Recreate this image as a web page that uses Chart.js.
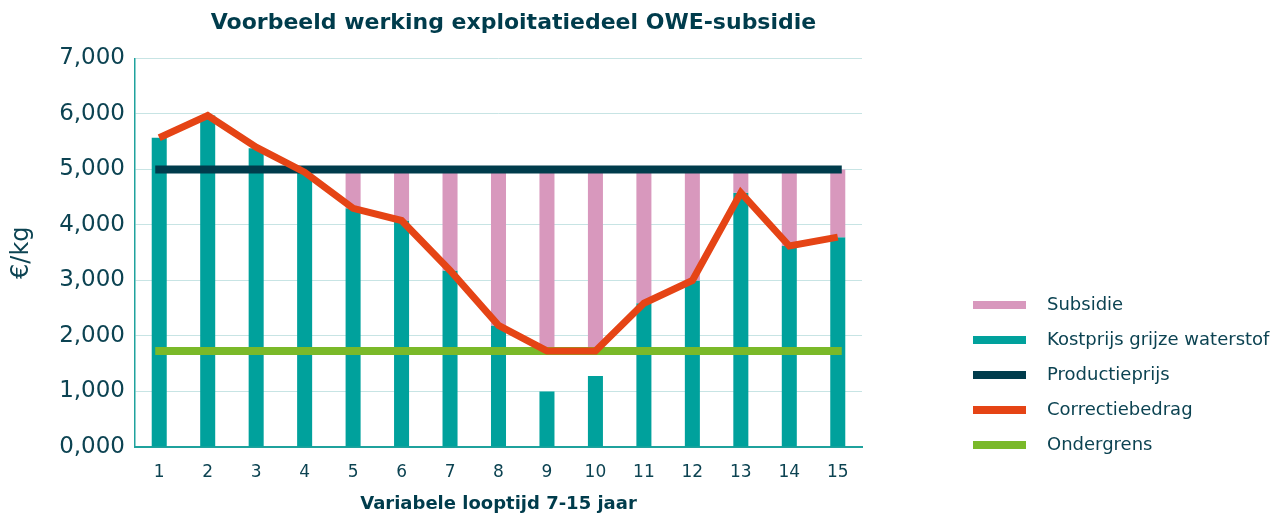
<!DOCTYPE html>
<html>
<head>
<meta charset="utf-8">
<script src="https://cdn.jsdelivr.net/npm/chart.js@4/dist/chart.umd.min.js"></script>
<style>
  html, body { margin: 0; padding: 0; background: #fff; }
  #wrap { width: 1276px; height: 513px; }
</style>
</head>
<body>
<div id="wrap"><canvas id="myChart"></canvas></div>
<script>
// jaren op de x-as
const jaren = ['1', '2', '3', '4', '5', '6', '7', '8', '9', '10', '11', '12', '13', '14', '15'];
// waarden in €/kg
const kostprijs = [5.57, 5.97, 5.38, 4.95, 4.30, 4.08, 3.18, 2.19, 1.00, 1.28, 2.59, 3.00, 4.58, 3.62, 3.78];
const correctiebedrag = [5.57, 5.97, 5.40, 4.95, 4.30, 4.08, 3.18, 2.19, 1.73, 1.73, 2.59, 3.00, 4.58, 3.62, 3.78];
const productieprijs = [5.0, 5.0, 5.0, 5.0, 5.0, 5.0, 5.0, 5.0, 5.0, 5.0, 5.0, 5.0, 5.0, 5.0, 5.0];
const ondergrens = [1.73, 1.73, 1.73, 1.73, 1.73, 1.73, 1.73, 1.73, 1.73, 1.73, 1.73, 1.73, 1.73, 1.73, 1.73];
const yTicks = [0, 1, 2, 3, 4, 5, 6, 7];

// subsidie = gat tussen correctiebedrag en productieprijs (zwevende staaf)
const subsidie = correctiebedrag.map((c, i) => c < productieprijs[i] ? [c, productieprijs[i]] : null);

const tekstKleur = '#0c4352';
const kleuren = {
  subsidie: '#d898bd',
  kostprijs: '#00a19c',
  productie: '#003c4c',
  correctie: '#e54415',
  onder: '#7ab929'
};

// legend swatch: balk van 53px met ruimte tot de tekst
function swatch(color) {
  const c = document.createElement('canvas');
  c.width = 65; c.height = 8;
  const g = c.getContext('2d');
  g.fillStyle = color;
  g.fillRect(0, 0, 53, 8);
  return c;
}

// legend iets omlaag en titel iets naar rechts, zoals in het origineel
const schuif = {
  id: 'schuif',
  afterLayout(chart) {
    chart.legend.top += 24;
    chart.legend.bottom += 24;
    if (chart.titleBlock) {
      chart.titleBlock.left += 15;
      chart.titleBlock.right += 15;
    }
  }
};

const ctx = document.getElementById('myChart').getContext('2d');
const myChart = new Chart(ctx, {
  data: {
    labels: jaren,
    datasets: [
      {
        type: 'bar', label: 'Subsidie', data: subsidie,
        backgroundColor: kleuren.subsidie, grouped: false, order: 3,
        barPercentage: 0.31, categoryPercentage: 1
      },
      {
        type: 'bar', label: 'Kostprijs grijze waterstof', data: kostprijs,
        backgroundColor: kleuren.kostprijs, grouped: false, order: 3,
        barPercentage: 0.31, categoryPercentage: 1
      },
      {
        type: 'line', label: 'Productieprijs', data: productieprijs,
        borderColor: kleuren.productie, borderWidth: 8, pointRadius: 0,
        borderCapStyle: 'square', order: 2
      },
      {
        type: 'line', label: 'Correctiebedrag', data: correctiebedrag,
        borderColor: kleuren.correctie, borderWidth: 7, pointRadius: 0,
        tension: 0, order: 1
      },
      {
        type: 'line', label: 'Ondergrens', data: ondergrens,
        borderColor: kleuren.onder, borderWidth: 8, pointRadius: 0,
        borderCapStyle: 'square', order: 2
      }
    ]
  },
  plugins: [schuif],
  options: {
    responsive: true,
    maintainAspectRatio: false,
    animation: false,
    layout: { padding: 0 },
    plugins: {
      title: {
        display: true,
        text: 'Voorbeeld werking exploitatiedeel OWE-subsidie',
        color: '#003c4c',
        fullSize: false,
        font: { family: 'DejaVu Sans', size: 22, weight: 'bold' },
        padding: { top: 10, bottom: 22 }
      },
      legend: {
        position: 'right',
        align: 'end',
        fullSize: false,
        maxWidth: 320,
        labels: {
          usePointStyle: true,
          pointStyleWidth: 65,
          boxHeight: 8,
          padding: 17,
          color: tekstKleur,
          font: { family: 'DejaVu Sans', size: 18 },
          generateLabels(chart) {
            const kl = [kleuren.subsidie, kleuren.kostprijs, kleuren.productie, kleuren.correctie, kleuren.onder];
            return chart.data.datasets.map((ds, i) => ({
              text: ds.label,
              fillStyle: kl[i],
              strokeStyle: kl[i],
              lineWidth: 0,
              pointStyle: swatch(kl[i]),
              fontColor: tekstKleur,
              hidden: false,
              datasetIndex: i
            }));
          }
        }
      },
      tooltip: { enabled: false }
    },
    scales: {
      x: {
        offset: true,
        grid: { display: false, drawTicks: false },
        border: { color: '#1fa29d', width: 2 },
        ticks: {
          color: tekstKleur, padding: 15,
          font: { family: 'DejaVu Sans', size: 17 }
        },
        title: {
          display: true,
          text: 'Variabele looptijd 7-15 jaar',
          color: '#003c4c',
          font: { family: 'DejaVu Sans', size: 18, weight: 'bold' },
          padding: { top: 0, bottom: -2 }
        },
        afterFit(scale) { scale.height = 66; }
      },
      y: {
        min: 0, max: 7,
        afterBuildTicks(scale) { scale.ticks = yTicks.map(v => ({ value: v })); },
        grid: { color: '#c7e4e4', lineWidth: 1, drawTicks: false },
        border: { color: '#1fa29d', width: 1.5 },
        ticks: {
          color: tekstKleur, padding: 10,
          font: { family: 'DejaVu Sans', size: 23 },
          callback: v => v.toFixed(3).replace('.', ',')
        },
        title: {
          display: true,
          text: '€/kg',
          color: tekstKleur,
          font: { family: 'DejaVu Sans', size: 24 },
          padding: { top: 7, bottom: 0 }
        },
        afterFit(scale) { scale.width = 135; }
      },
      y2: {
        position: 'right',
        display: true,
        grid: { display: false, drawTicks: false },
        border: { display: false },
        ticks: { display: false },
        afterFit(scale) { scale.width = 94; }
      }
    }
  }
});
</script>
</body>
</html>
